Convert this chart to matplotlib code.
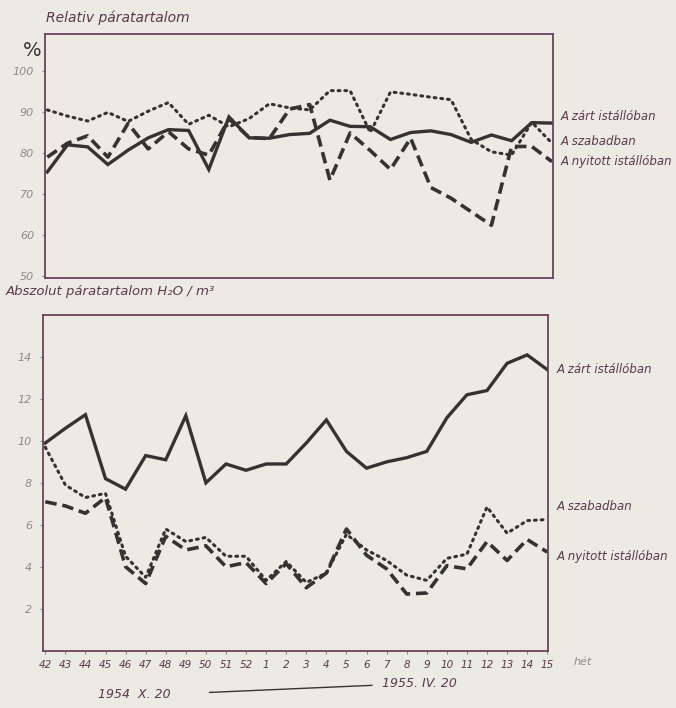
import matplotlib.pyplot as plt

# weeks (1954 X. 20 - 1955 IV. 20)
weeks = ['42', '43', '44', '45', '46', '47', '48', '49', '50', '51', '52',
         '1', '2', '3', '4', '5', '6', '7', '8', '9', '10', '11', '12', '13', '14', '15']

# relativ paratartalom (%)
rel_zart = [75.4, 82.0, 81.5, 77.2, 80.7, 83.7, 85.7, 85.5, 76.0, 88.8, 83.7, 83.6, 84.5,
            84.8, 88.0, 86.5, 86.4, 83.3, 85.0, 85.4, 84.5, 82.6, 84.4, 83.0, 87.4, 87.3]
rel_szabad = [90.5, 89.0, 87.8, 89.9, 87.7, 90.2, 92.3, 87.0, 89.2, 86.4, 88.4, 92.0, 91.0,
              90.5, 95.2, 95.2, 85.0, 94.9, 94.3, 93.6, 93.0, 83.3, 80.3, 79.5, 87.5, 82.4]
rel_nyitott = [79.0, 82.4, 84.2, 79.0, 87.2, 81.0, 85.2, 81.0, 79.5, 88.3, 83.8, 83.5, 90.7,
               91.8, 73.4, 84.9, 80.6, 76.0, 83.6, 71.6, 69.0, 65.7, 62.4, 81.6, 81.6, 77.9]

# abszolut paratartalom (g H2O / m3)
abs_zart = [9.9, 10.6, 11.25, 8.2, 7.7, 9.3, 9.1, 11.2, 8.0, 8.9, 8.6, 8.9, 8.9,
            9.9, 11.0, 9.5, 8.7, 9.0, 9.2, 9.5, 11.1, 12.2, 12.4, 13.7, 14.1, 13.4]
abs_szabad = [9.7, 7.9, 7.3, 7.5, 4.5, 3.5, 5.8, 5.2, 5.4, 4.5, 4.5, 3.35, 4.25,
              3.25, 3.7, 5.55, 4.8, 4.3, 3.6, 3.35, 4.4, 4.6, 6.85, 5.6, 6.2, 6.25]
abs_nyitott = [7.1, 6.9, 6.55, 7.3, 4.0, 3.2, 5.45, 4.8, 5.0, 4.0, 4.2, 3.2, 4.15,
               3.0, 3.7, 5.8, 4.55, 3.9, 2.7, 2.75, 4.05, 3.9, 5.2, 4.3, 5.3, 4.7]

labels = ['A zárt istállóban', 'A szabadban', 'A nyitott istállóban']

paper = '#ecebe3'
ink = '#353232'
frame = '#6e4160'
txt = '#5e3550'
grey = '#8c8a86'

fig = plt.figure(figsize=(6.76, 7.08), dpi=100, facecolor=paper)
x = list(range(len(weeks)))


def draw(ax, zart, szabad, nyitott):
    ax.set_facecolor(paper)
    ax.plot(x, szabad, color=ink, lw=2.2, linestyle=(0, (0.6, 1.6)),
            dash_capstyle='round', solid_capstyle='round')
    ax.plot(x, nyitott, color=ink, lw=2.6, linestyle=(0, (3.2, 1.6)))
    ax.plot(x, zart, color=ink, lw=2.4, solid_joinstyle='miter')
    for s in ax.spines.values():
        s.set_color(frame)
        s.set_linewidth(1.3)
    ax.set_xlim(-0.1, 25.05)
    ax.tick_params(axis='y', length=2, color=grey, labelcolor=grey, labelsize=8, pad=6)


# top panel
ax1 = fig.add_axes([0.067, 0.607, 0.751, 0.345])
draw(ax1, rel_zart, rel_szabad, rel_nyitott)
ax1.set_ylim(49.5, 109)
ax1.set_yticks([50, 60, 70, 80, 90, 100])
ax1.set_yticklabels(['50', '60', '70', '80', '90', '100'], fontstyle='italic')
ax1.set_xticks([])
fig.text(0.068, 0.975, 'Relativ páratartalom', color=txt, fontsize=10, style='italic', va='center')
fig.text(0.047, 0.928, '%', color=ink, fontsize=14, va='center', ha='center')
for lab, yv in zip(labels, [rel_zart[-1] + 1.5, rel_szabad[-1] + 0.5, rel_nyitott[-1]]):
    ax1.text(25.45, yv, lab, color=txt, fontsize=8.5, style='italic', va='center', clip_on=False)

# bottom panel
ax2 = fig.add_axes([0.064, 0.081, 0.747, 0.474])
draw(ax2, abs_zart, abs_szabad, abs_nyitott)
ax2.set_ylim(0, 16)
ax2.set_yticks([2, 4, 6, 8, 10, 12, 14])
ax2.set_yticklabels(['2', '4', '6', '8', '10', '12', '14'], fontstyle='italic')
ax2.set_xticks(x)
ax2.set_xticklabels(weeks, fontstyle='italic')
ax2.tick_params(axis='x', length=2, color=grey, labelcolor=txt, labelsize=7.5, pad=5)
fig.text(0.008, 0.588, 'Abszolut páratartalom H₂O / m³', color=txt, fontsize=9.5,
         style='italic', va='center')
for lab, yv in zip(labels, [abs_zart[-1], abs_szabad[-1] + 0.6, abs_nyitott[-1] - 0.2]):
    ax2.text(25.45, yv, lab, color=txt, fontsize=8.5, style='italic', va='center', clip_on=False)
ax2.text(26.3, -0.3, 'hét', color=grey, fontsize=8, style='italic', va='top', clip_on=False)

# date range under the axis
fig.text(0.145, 0.01, '1954  X. 20', color=txt, fontsize=9, style='italic', va='bottom')
fig.add_artist(plt.Line2D([0.31, 0.55], [0.022, 0.032], color=ink, lw=1.0))
fig.text(0.565, 0.026, '1955. IV. 20', color=txt, fontsize=9, style='italic', va='bottom')

fig.savefig('out.png', dpi=100, facecolor=paper)
